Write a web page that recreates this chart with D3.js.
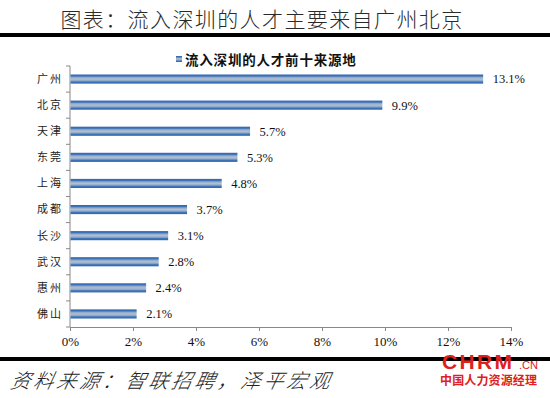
<!DOCTYPE html>
<html>
<head>
<meta charset="utf-8">
<script src="https://cdn.jsdelivr.net/npm/d3@7"></script>
<style>
  body { margin: 0; background: #fff; }
  svg { display: block; }
</style>
</head>
<body>
<div id="chart"></div>
<script>
const cities = ["广州", "北京", "天津", "东莞", "上海", "成都", "长沙", "武汉", "惠州", "佛山"];
const shares = [13.1, 9.9, 5.7, 5.3, 4.8, 3.7, 3.1, 2.8, 2.4, 2.1];
const xTicks = [0, 2, 4, 6, 8, 10, 12, 14];
const title = "图表：流入深圳的人才主要来自广州北京";
const seriesName = "流入深圳的人才前十来源地";
const source = "资料来源：智联招聘，泽平宏观";

const width = 550, height = 398;
const cjk = "'Noto Sans CJK SC', sans-serif";
const serif = "'Liberation Serif', 'DejaVu Serif', serif";

const svg = d3.select("#chart").append("svg")
    .attr("width", width)
    .attr("height", height);

// bar fill: dark blue edges, greyish blue middle
const grad = svg.append("defs").append("linearGradient")
    .attr("id", "barGrad")
    .attr("x1", 0).attr("y1", 0).attr("x2", 0).attr("y2", 1);
[[0, "#2d66b2"], [0.18, "#3f74b9"], [0.32, "#8ea8c9"], [0.5, "#b3c0d0"], [0.68, "#8ea8c9"], [0.82, "#3f74b9"], [1, "#2d66b2"]]
    .forEach(([o, c]) => grad.append("stop").attr("offset", o).attr("stop-color", c));

// header
svg.append("text")
    .attr("x", 262).attr("y", 27)
    .attr("text-anchor", "middle")
    .style("font-family", cjk)
    .style("font-size", "21px")
    .style("font-weight", 300)
    .style("letter-spacing", "1.4px")
    .attr("fill", "#2a2a2a")
    .text(title);

svg.append("rect").attr("x", 0).attr("y", 33).attr("width", width).attr("height", 4).attr("fill", "#000");
svg.append("rect").attr("x", 0).attr("y", 357).attr("width", width).attr("height", 4).attr("fill", "#000");

// legend
svg.append("rect")
    .attr("x", 176).attr("y", 56).attr("width", 6).attr("height", 6)
    .attr("fill", "url(#barGrad)");
svg.append("text")
    .attr("x", 185).attr("y", 65)
    .style("font-family", cjk)
    .style("font-size", "13.5px")
    .style("font-weight", 700)
    .style("letter-spacing", "0.8px")
    .attr("fill", "#111")
    .text(seriesName);

const x = d3.scaleLinear()
    .domain([0, 14])
    .range([70, 511]);

const y = d3.scaleBand()
    .domain(cities)
    .range([66, 327])
    .paddingInner(0.65)
    .paddingOuter(0.325);

// x axis
const xAxis = svg.append("g")
    .attr("transform", "translate(0,327)")
    .call(d3.axisBottom(x)
        .tickValues(xTicks)
        .tickSize(4)
        .tickSizeOuter(0)
        .tickPadding(6)
        .tickFormat(d => d + "%"));
xAxis.select(".domain").attr("stroke", "#888");
xAxis.selectAll(".tick line").attr("stroke", "#888");
xAxis.selectAll(".tick text")
    .style("font-family", serif)
    .style("font-size", "13px")
    .attr("fill", "#111");

// y axis line with ticks at band boundaries
svg.append("line")
    .attr("x1", 70).attr("x2", 70)
    .attr("y1", 66).attr("y2", 327)
    .attr("stroke", "#888");
const bounds = cities.map(c => y(c) - y.step() * y.paddingInner() / 2)
    .concat([y(cities[cities.length - 1]) + y.bandwidth() + y.step() * y.paddingInner() / 2]);
svg.selectAll("line.ytick")
    .data(bounds)
    .enter().append("line")
    .attr("class", "ytick")
    .attr("x1", 66).attr("x2", 70)
    .attr("y1", d => d).attr("y2", d => d)
    .attr("stroke", "#888");

svg.selectAll("text.city")
    .data(cities)
    .enter().append("text")
    .attr("class", "city")
    .attr("x", 63)
    .attr("y", d => y(d) + y.bandwidth() / 2)
    .attr("dy", "0.35em")
    .attr("text-anchor", "end")
    .style("font-family", cjk)
    .style("font-size", "11px")
    .style("letter-spacing", "2px")
    .attr("fill", "#222")
    .text(d => d);

// bars
svg.selectAll("rect.bar")
    .data(shares)
    .enter().append("rect")
    .attr("class", "bar")
    .attr("x", x(0) + 0.5)
    .attr("y", (d, i) => y(cities[i]))
    .attr("width", d => x(d) - x(0))
    .attr("height", y.bandwidth())
    .attr("fill", "url(#barGrad)");

svg.selectAll("text.val")
    .data(shares)
    .enter().append("text")
    .attr("class", "val")
    .attr("x", d => x(d) + 10)
    .attr("y", (d, i) => y(cities[i]) + y.bandwidth() / 2)
    .attr("dy", "0.35em")
    .style("font-family", serif)
    .style("font-size", "12.5px")
    .attr("fill", "#111")
    .text(d => d.toFixed(1) + "%");

// footer
svg.append("text")
    .attr("x", 10).attr("y", 388)
    .style("font-family", cjk)
    .style("font-size", "20px")
    .style("font-style", "italic")
    .style("font-weight", 300)
    .style("letter-spacing", "3px")
    .attr("fill", "#222")
    .attr("transform", "skewX(-12) translate(82,0)")
    .text(source);

// watermark
svg.append("text")
    .attr("x", 442).attr("y", 369)
    .style("font-family", "'Liberation Sans', Arial, sans-serif")
    .style("font-size", "21px")
    .style("font-weight", 700)
    .attr("fill", "#e02020")
    .attr("textLength", 70)
    .text("CHRM");
svg.append("text")
    .attr("x", 519).attr("y", 369)
    .style("font-family", "'Liberation Sans', Arial, sans-serif")
    .style("font-size", "11px")
    .attr("fill", "#e02020")
    .text(".CN");
svg.append("text")
    .attr("x", 440).attr("y", 385)
    .style("font-family", cjk)
    .style("font-size", "12px")
    .style("font-weight", 700)
    .attr("fill", "#e02020")
    .attr("textLength", 97)
    .text("中国人力资源经理");
</script>
</body>
</html>
